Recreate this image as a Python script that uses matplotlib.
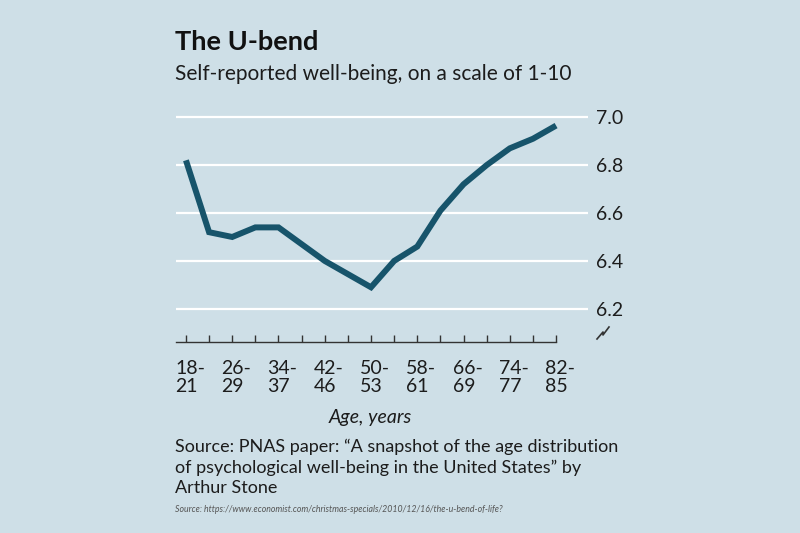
import matplotlib
matplotlib.use("Agg")
import matplotlib.pyplot as plt
from matplotlib.lines import Line2D

# data
age_groups = ["18-21", "22-25", "26-29", "30-33", "34-37", "38-41", "42-46",
              "46-49", "50-53", "54-57", "58-61", "62-65", "66-69", "70-73",
              "74-77", "78-81", "82-85"]
wellbeing = [6.82, 6.52, 6.50, 6.54, 6.54, 6.47, 6.40, 6.345, 6.29, 6.40,
             6.46, 6.61, 6.72, 6.80, 6.87, 6.91, 6.965]
y_ticks = [6.2, 6.4, 6.6, 6.8, 7.0]
labelled = ["18-\n21", "26-\n29", "34-\n37", "42-\n46", "50-\n53",
            "58-\n61", "66-\n69", "74-\n77", "82-\n85"]

BG = "#cedfe7"
LINE = "#17546b"
TXT = "#1c1c1c"
FONT = ["Lato", "DejaVu Sans"]

plt.rcParams["font.family"] = FONT

fig = plt.figure(figsize=(8, 5.33), dpi=100, facecolor=BG)
ax = fig.add_axes([0.22, 0.359, 0.515, 0.431])
ax.set_facecolor(BG)

x = list(range(len(wellbeing)))
ax.plot(x, wellbeing, color=LINE, lw=4.3, solid_capstyle="butt",
        solid_joinstyle="miter", zorder=3)

ax.set_xlim(-0.43, 17.38)
ax.set_ylim(6.063, 7.022)

for v in y_ticks:
    ax.axhline(v, color="white", lw=1.6, zorder=1)

for s in ["top", "left", "right"]:
    ax.spines[s].set_visible(False)
ax.spines["bottom"].set_bounds(-0.43, 16)
ax.spines["bottom"].set_color("#333333")
ax.spines["bottom"].set_linewidth(1.0)

ax.set_xticks(x)
ax.set_xticklabels([])
ax.tick_params(axis="x", direction="in", length=5, width=1.0, color="#333333")

ax.yaxis.tick_right()
ax.set_yticks(y_ticks)
ax.set_yticklabels([f"{v:.1f}" for v in y_ticks], fontsize=14, color=TXT)
ax.tick_params(axis="y", length=0, pad=6)

# two-line age labels, every other group
for i, lab in zip(x[::2], labelled):
    ax.text(i - 0.47, -0.078, lab, transform=ax.get_xaxis_transform(),
            ha="left", va="top", fontsize=14, color=TXT, linespacing=1.12)

ax.text(0.471, -0.295, "Age, years", transform=ax.transAxes, ha="center",
        va="top", fontsize=14, style="italic", color=TXT)

# axis break mark
fig.add_artist(Line2D([597 / 800, 603 / 800, 603 / 800, 609 / 800],
                      [1 - 339 / 533, 1 - 332 / 533, 1 - 335 / 533, 1 - 327 / 533],
                      color="#333333", lw=1.2))

fig.text(175 / 800, 1 - 30 / 533, "The U-bend", fontsize=19.5, weight="bold",
         color="#111111", va="top")
fig.text(175 / 800, 1 - 64 / 533, "Self-reported well-being, on a scale of 1-10",
         fontsize=15, color=TXT, va="top")

fig.text(175 / 800, 1 - 439 / 533,
         "Source: PNAS paper: \u201cA snapshot of the age distribution\n"
         "of psychological well-being in the United States\u201d by\n"
         "Arthur Stone",
         fontsize=13, color=TXT, va="top", linespacing=1.3)
fig.text(175 / 800, 1 - 505 / 533,
         "Source: https://www.economist.com/christmas-specials/2010/12/16/the-u-bend-of-life?",
         fontsize=6.3, style="italic", color="#555555", va="top")

fig.savefig("out.png", dpi=100, facecolor=BG)
